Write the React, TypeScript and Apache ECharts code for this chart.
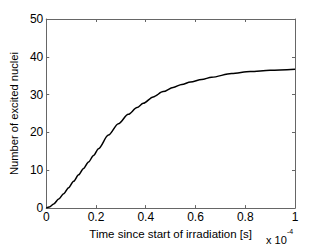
import React, { useEffect, useRef } from "react";
import * as echarts from "echarts";

const timeValues = [0, 0.0125, 0.03, 0.05, 0.07, 0.09, 0.11, 0.13, 0.15, 0.17, 0.19, 0.21, 0.25, 0.29, 0.33, 0.365, 0.39, 0.43, 0.47, 0.51, 0.545, 0.58, 0.625, 0.665, 0.745, 0.82, 0.9, 1.0];
const nucleiValues = [0, 0.3, 1.1, 2.4, 3.8, 5.4, 7.1, 8.8, 10.5, 12.2, 13.9, 15.7, 19.3, 22.3, 24.8, 26.6, 27.7, 29.4, 30.8, 31.9, 32.7, 33.35, 34.0, 34.6, 35.6, 36.1, 36.45, 36.7];
const xTicks = [0, 0.2, 0.4, 0.6, 0.8, 1];
const yTicks = [0, 10, 20, 30, 40, 50];

const FONT = "'Liberation Sans', Arial, Helvetica, sans-serif";
const AXIS_COLOR = "#666";

export default function App() {
  const ref = useRef<HTMLDivElement>(null);
  useEffect(() => {
    if (!ref.current) return;
    const chart = echarts.init(ref.current, null, { renderer: "svg" });
    const fmtX = (v: number) => {
      const r = Math.round(v * 10) / 10;
      return xTicks.some((t) => Math.abs(t - r) < 1e-9) ? String(r) : "";
    };
    const tickCommon = { inside: true, length: 3, lineStyle: { color: AXIS_COLOR } };
    const lineCommon = { show: true, onZero: false, lineStyle: { color: AXIS_COLOR, width: 1 } };
    chart.setOption({
      animation: false,
      backgroundColor: "#fff",
      grid: { left: 42, top: 19, width: 253, height: 196, containLabel: false },
      xAxis: [
        {
          type: "value",
          min: 0,
          max: 1,
          interval: 0.2,
          position: "bottom",
          axisLine: lineCommon,
          axisTick: tickCommon,
          splitLine: { show: false },
          axisLabel: { formatter: fmtX, color: "#000", fontFamily: FONT, fontSize: 12, margin: 3 },
          name: "Time since start of irradiation [s]",
          nameLocation: "middle",
          nameGap: 13,
          nameTextStyle: { color: "#000", fontFamily: FONT, fontSize: 11.5 },
        },
        {
          type: "value",
          min: 0,
          max: 1,
          interval: 0.2,
          position: "top",
          axisLine: lineCommon,
          axisTick: tickCommon,
          axisLabel: { show: false },
          splitLine: { show: false },
        },
      ],
      yAxis: [
        {
          type: "value",
          min: 0,
          max: 50,
          interval: 10,
          position: "left",
          axisLine: lineCommon,
          axisTick: tickCommon,
          splitLine: { show: false },
          axisLabel: { color: "#000", fontFamily: FONT, fontSize: 12, margin: 3, formatter: (v: number) => (yTicks.includes(v) ? String(v) : "") },
          name: "Number of excited nuclei",
          nameLocation: "middle",
          nameGap: 21,
          nameTextStyle: { color: "#000", fontFamily: FONT, fontSize: 11.2 },
        },
        {
          type: "value",
          min: 0,
          max: 50,
          interval: 10,
          position: "right",
          axisLine: lineCommon,
          axisTick: tickCommon,
          axisLabel: { show: false },
          splitLine: { show: false },
        },
      ],
      graphic: [
        {
          type: "text",
          left: 266,
          top: 234,
          style: { text: "x 10", fill: "#000", font: `11px ${FONT}` },
        },
        {
          type: "text",
          left: 287,
          top: 228,
          style: { text: "-4", fill: "#000", font: `7px ${FONT}` },
        },
      ],
      series: [
        {
          type: "line",
          data: timeValues.map((t, i) => [t, nucleiValues[i]]),
          smooth: 0.3,
          smoothMonotone: "x",
          showSymbol: false,
          symbol: "none",
          lineStyle: { color: "#000", width: 1.5 },
          xAxisIndex: 0,
          yAxisIndex: 0,
        },
      ],
    });
    return () => chart.dispose();
  }, []);
  return <div ref={ref} style={{ width: 326, height: 245, position: "absolute", left: 0, top: 0 }} />;
}
